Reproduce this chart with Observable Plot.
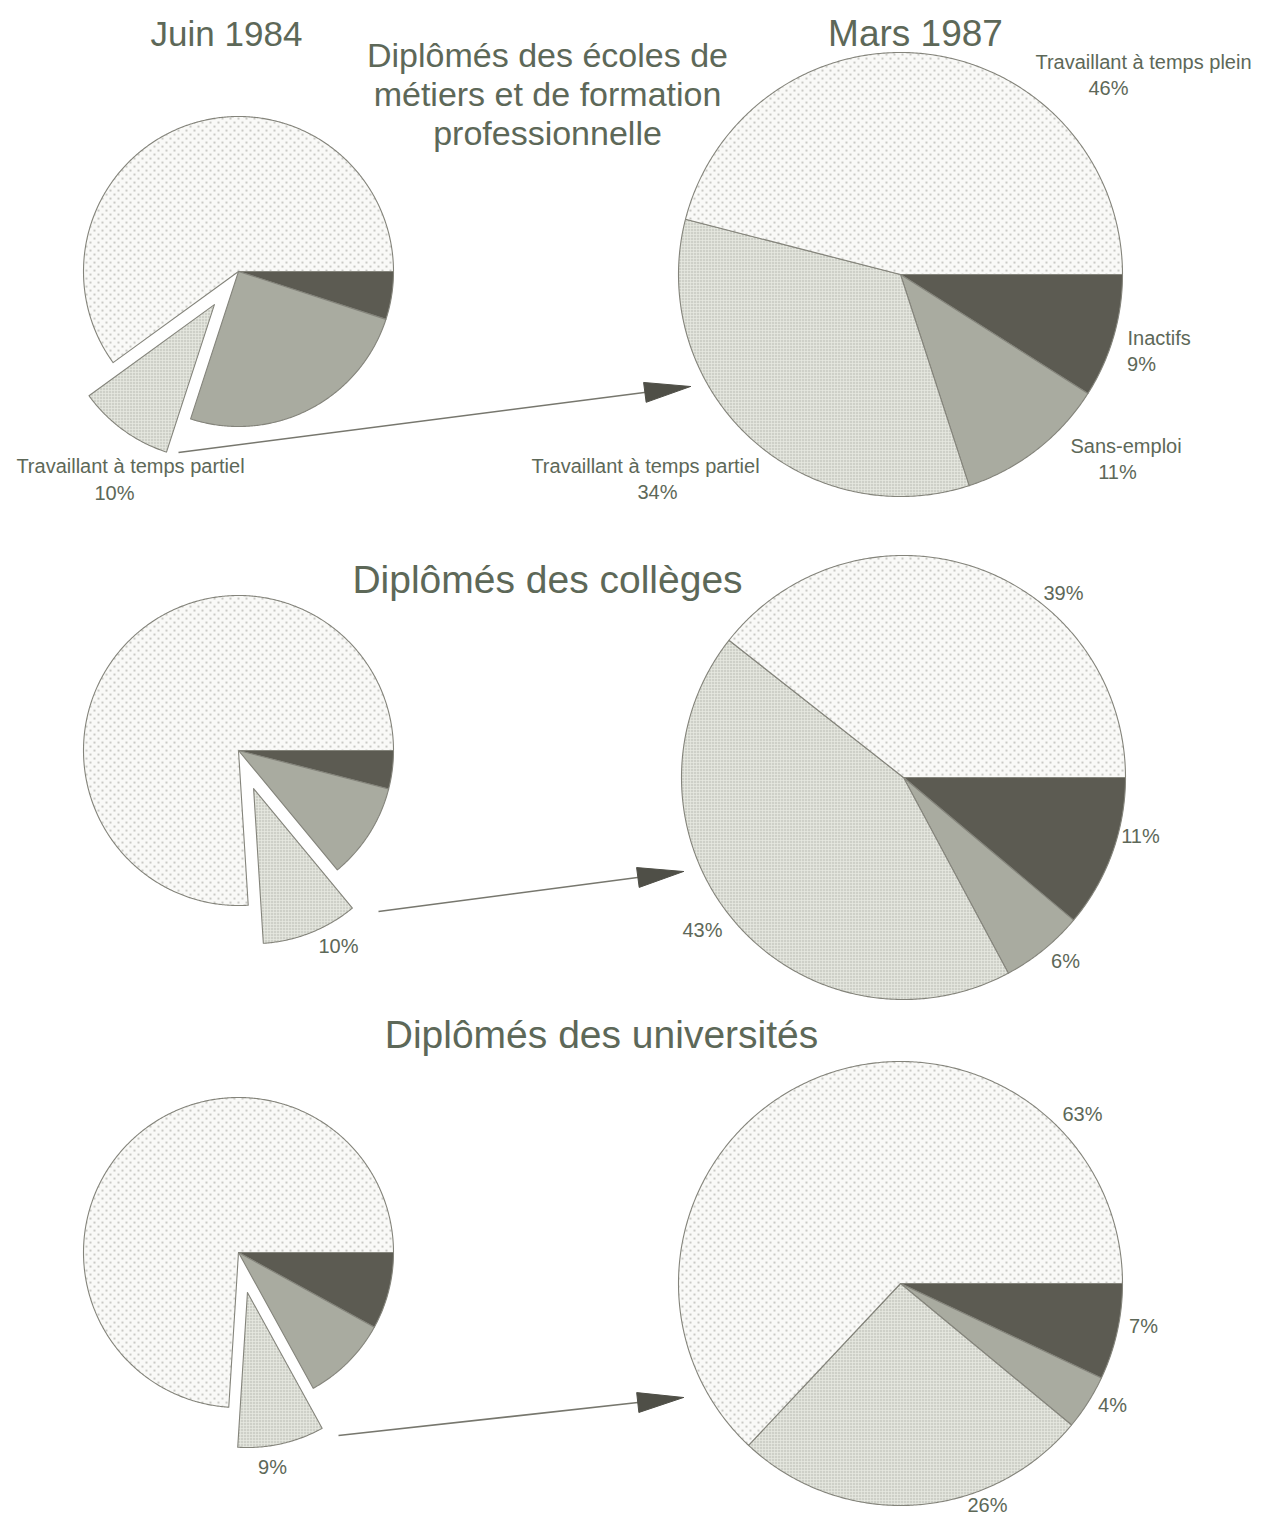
<!DOCTYPE html>
<html>
<head>
<meta charset="utf-8">
<script src="https://cdn.jsdelivr.net/npm/d3@7"></script>
<script src="https://cdn.jsdelivr.net/npm/@observablehq/plot@0.6"></script>
<style>
  html, body { margin: 0; padding: 0; background: #ffffff; }
  #chart { width: 1262px; height: 1513px; }
</style>
</head>
<body>
<div id="chart"></div>
<script>
// ---------------- DATA ----------------
const groupTitles = [
  "Diplômés des écoles de\nmétiers et de formation\nprofessionnelle",
  "Diplômés des collèges",
  "Diplômés des universités"
];
const yearTitles = ["Juin 1984", "Mars 1987"];
const categories = ["Inactifs", "Sans-emploi", "Travaillant à temps partiel", "Travaillant à temps plein"];
// percentages per group, in category order (Inactifs, Sans-emploi, Temps partiel, Temps plein)
const juin1984 = [
  [5, 25, 10, 60],
  [4, 10, 10, 76],
  [8, 9, 9, 74]
];
const mars1987 = [
  [9, 11, 34, 46],
  [11, 6, 43, 39],
  [7, 4, 26, 63]
];

// ---------------- LAYOUT / STYLE ----------------
const W = 1262, H = 1513;
const pieCenters = {
  "Juin 1984": [[238, 271], [238, 750], [238, 1252]],
  "Mars 1987": [[900, 274], [903, 777], [900, 1283]]
};
const pieRadius = {"Juin 1984": 155, "Mars 1987": 222};
const explodeOffset = {"Juin 1984": 41, "Mars 1987": 0};
const explodedCategory = "Travaillant à temps partiel";
const sliceFill = {
  "Inactifs": "#5c5b52",
  "Sans-emploi": "#a9aba0",
  "Travaillant à temps partiel": "url(#pat-partiel)",
  "Travaillant à temps plein": "url(#pat-plein)"
};
const textColor = "#5d6858";
const font = "Liberation Sans, Arial, Helvetica, sans-serif";

const yearTitlePos = [
  {text: yearTitles[0], x: 226, y: 34, size: 35},
  {text: yearTitles[1], x: 915, y: 34, size: 37}
];
const groupTitlePos = [
  {x: 547, y: 93, size: 34, lineHeight: 1.15},
  {x: 547, y: 580, size: 39, lineHeight: 1},
  {x: 601, y: 1035, size: 39, lineHeight: 1}
];
// name labels: [year, group, categoryIndex, x, y, anchor]
const nameLabelPos = [
  ["Mars 1987", 0, 3, 1143, 62, "middle"],
  ["Mars 1987", 0, 0, 1127, 338, "start"],
  ["Mars 1987", 0, 1, 1070, 446, "start"],
  ["Mars 1987", 0, 2, 645, 466, "middle"],
  ["Juin 1984", 0, 2, 130, 466, "middle"]
];
// value labels: [year, group, categoryIndex, x, y]
const valueLabelPos = [
  ["Mars 1987", 0, 3, 1108, 88],
  ["Mars 1987", 0, 0, 1141, 364],
  ["Mars 1987", 0, 1, 1117, 472],
  ["Mars 1987", 0, 2, 657, 492],
  ["Juin 1984", 0, 2, 114, 493],
  ["Mars 1987", 1, 3, 1063, 593],
  ["Mars 1987", 1, 0, 1140, 836],
  ["Mars 1987", 1, 1, 1065, 961],
  ["Mars 1987", 1, 2, 702, 930],
  ["Juin 1984", 1, 2, 338, 946],
  ["Mars 1987", 2, 3, 1082, 1114],
  ["Mars 1987", 2, 0, 1143, 1326],
  ["Mars 1987", 2, 1, 1112, 1405],
  ["Mars 1987", 2, 2, 987, 1505],
  ["Juin 1984", 2, 2, 272, 1467]
];
// arrows from the exploded 1984 slice to the 1987 pie
const arrowPos = [
  {x1: 178, y1: 452, x2: 690, y2: 386},
  {x1: 378, y1: 911, x2: 683, y2: 871},
  {x1: 338, y1: 1435, x2: 683, y2: 1397}
];
const headLength = 46, headHalfWidth = 10;

// ---------------- BUILD GEOMETRY FROM DATA ----------------
const tables = {"Juin 1984": juin1984, "Mars 1987": mars1987};
const wedges = [];
yearTitles.forEach(year => {
  tables[year].forEach((vals, gi) => {
    const total = d3.sum(vals);
    const [cx, cy] = pieCenters[year][gi];
    const r = pieRadius[year];
    let cum = 0;
    vals.forEach((v, ci) => {
      const a0 = cum / total * 2 * Math.PI;
      cum += v;
      const a1 = cum / total * 2 * Math.PI;
      const cat = categories[ci];
      const off = cat === explodedCategory ? explodeOffset[year] : 0;
      const am = (a0 + a1) / 2;
      const ox = cx + off * Math.cos(am), oy = cy + off * Math.sin(am);
      const key = `${year}-${gi}-${ci}`;
      wedges.push({key, cat, x: ox, y: oy});
      const n = Math.max(2, Math.ceil((a1 - a0) / (Math.PI / 360)));
      for (let k = 0; k <= n; k++) {
        const a = a0 + (a1 - a0) * k / n;
        wedges.push({key, cat, x: ox + r * Math.cos(a), y: oy + r * Math.sin(a)});
      }
      wedges.push({key, cat, x: ox, y: oy});
    });
  });
});

const nameLabels = nameLabelPos.map(([year, g, ci, x, y, anchor]) => ({text: categories[ci], x, y, anchor}));
const valueLabels = valueLabelPos.map(([year, g, ci, x, y]) => ({text: `${tables[year][g][ci]}%`, x, y}));
const groupTitleData = groupTitles.map((t, i) => ({text: t, ...groupTitlePos[i]}));

const arrowLines = arrowPos.map(a => {
  const dx = a.x2 - a.x1, dy = a.y2 - a.y1, len = Math.hypot(dx, dy);
  const ux = dx / len, uy = dy / len;
  return {x1: a.x1, y1: a.y1, x2: a.x2 - ux * headLength * 0.8, y2: a.y2 - uy * headLength * 0.8};
});
const arrowHeads = [];
arrowPos.forEach((a, i) => {
  const dx = a.x2 - a.x1, dy = a.y2 - a.y1, len = Math.hypot(dx, dy);
  const ux = dx / len, uy = dy / len;
  const bx = a.x2 - ux * headLength, by = a.y2 - uy * headLength;
  arrowHeads.push({k: i, x: a.x2, y: a.y2});
  arrowHeads.push({k: i, x: bx - uy * headHalfWidth, y: by + ux * headHalfWidth});
  arrowHeads.push({k: i, x: bx + uy * headHalfWidth, y: by - ux * headHalfWidth});
  arrowHeads.push({k: i, x: a.x2, y: a.y2});
});

// ---------------- PLOT ----------------
const marks = [];
categories.forEach(cat => {
  marks.push(Plot.line(wedges.filter(d => d.cat === cat), {
    x: "x", y: "y", z: "key",
    fill: sliceFill[cat],
    stroke: "#84847b", strokeWidth: 1.1, strokeLinejoin: "round"
  }));
});
marks.push(Plot.link(arrowLines, {x1: "x1", y1: "y1", x2: "x2", y2: "y2", stroke: "#77776e", strokeWidth: 1.6}));
marks.push(Plot.line(arrowHeads, {x: "x", y: "y", z: "k", fill: "#4f4f47", stroke: "#4f4f47", strokeWidth: 1}));

yearTitlePos.forEach(t => {
  marks.push(Plot.text([t], {x: "x", y: "y", text: "text", fontSize: t.size, fill: textColor, fontFamily: font, textAnchor: "middle"}));
});
groupTitleData.forEach(t => {
  marks.push(Plot.text([t], {x: "x", y: "y", text: "text", fontSize: t.size, lineHeight: t.lineHeight, fill: textColor, fontFamily: font, textAnchor: "middle"}));
});
["start", "middle", "end"].forEach(anchor => {
  const subset = nameLabels.filter(d => d.anchor === anchor);
  if (subset.length) marks.push(Plot.text(subset, {x: "x", y: "y", text: "text", textAnchor: anchor, fontSize: 20, fill: textColor, fontFamily: font}));
});
marks.push(Plot.text(valueLabels, {x: "x", y: "y", text: "text", textAnchor: "middle", fontSize: 20, fill: textColor, fontFamily: font}));

const svg = Plot.plot({
  width: W,
  height: H,
  margin: 0,
  x: {type: "linear", domain: [0, W], range: [0, W], axis: null},
  y: {type: "linear", domain: [0, H], range: [0, H], axis: null},
  style: {background: "#ffffff", fontFamily: font, overflow: "visible"},
  marks
});

const defs = d3.select(svg).insert("defs", ":first-child");
const p1 = defs.append("pattern").attr("id", "pat-plein").attr("width", 8).attr("height", 8).attr("patternUnits", "userSpaceOnUse");
p1.append("rect").attr("width", 8).attr("height", 8).attr("fill", "#f9f9f7");
p1.append("circle").attr("cx", 2).attr("cy", 2).attr("r", 0.85).attr("fill", "#9a9a94");
p1.append("circle").attr("cx", 6).attr("cy", 6).attr("r", 0.85).attr("fill", "#9a9a94");
const p2 = defs.append("pattern").attr("id", "pat-partiel").attr("width", 3).attr("height", 3).attr("patternUnits", "userSpaceOnUse");
p2.append("rect").attr("width", 3).attr("height", 3).attr("fill", "#e6e8e0");
p2.append("circle").attr("cx", 1.5).attr("cy", 1.5).attr("r", 0.75).attr("fill", "#9c9e95");

document.getElementById("chart").appendChild(svg);
</script>
</body>
</html>
